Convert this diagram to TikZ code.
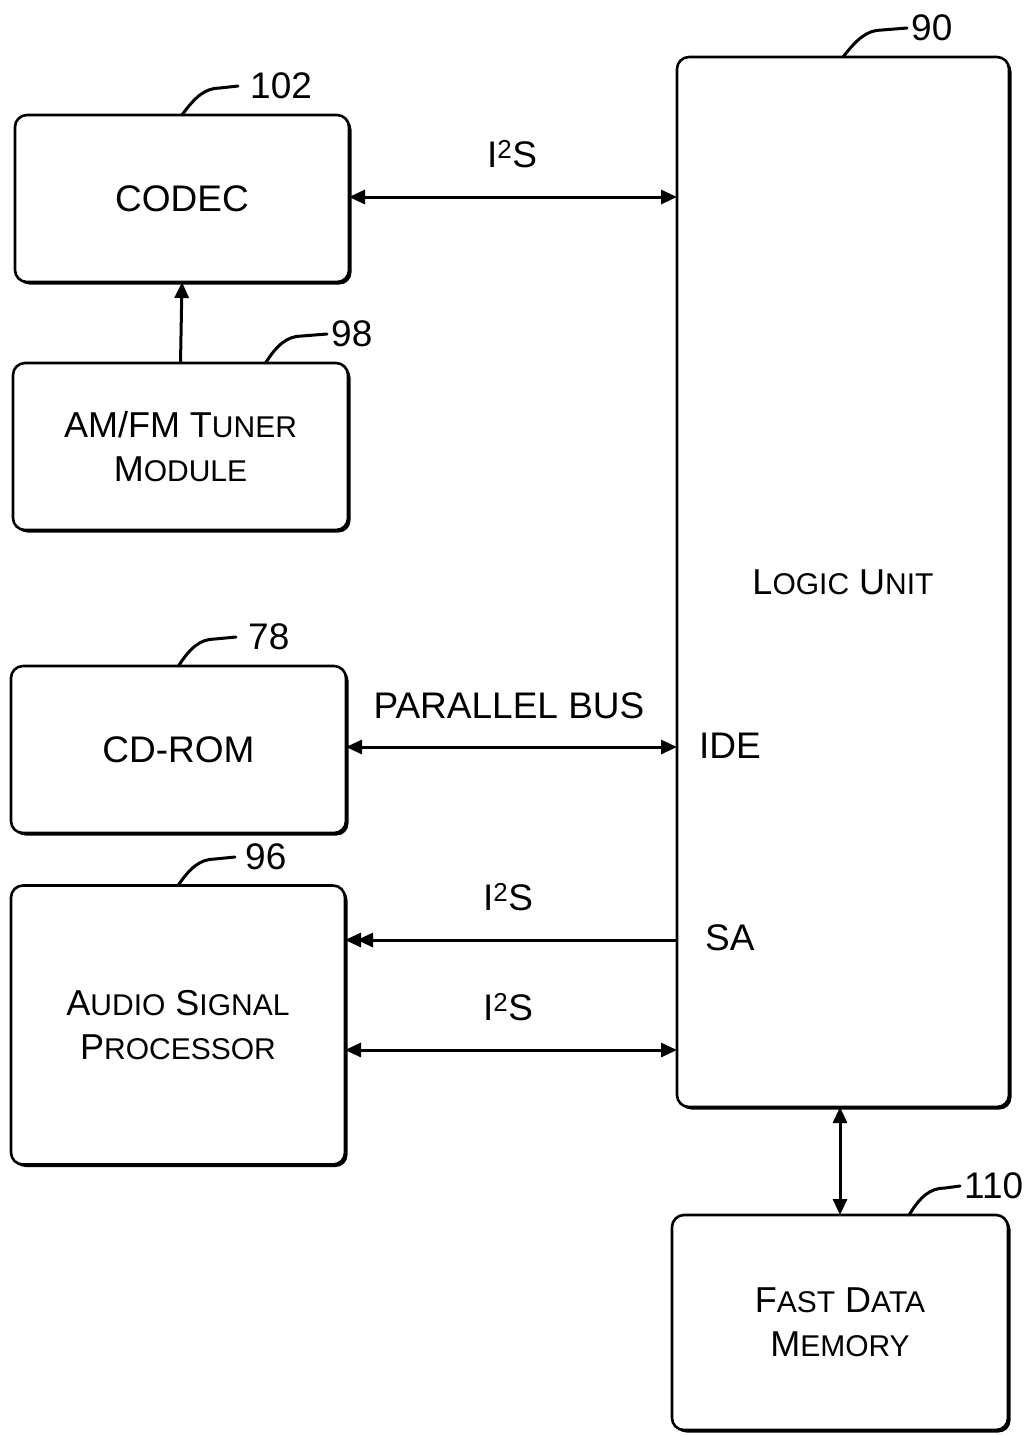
\documentclass[tikz,border=0pt]{standalone}
\usepackage{fontspec}
\setmainfont{Liberation Sans}
\usetikzlibrary{arrows.meta,shadows}
\newcommand\bigtxt{\fontsize{37}{44}\selectfont}
\newcommand\sctxt{\fontsize{36}{44}\selectfont}
\newcommand\smc[1]{{\fontsize{30}{44}\selectfont #1}}
\tikzset{
  box/.style={draw, line width=2.6pt, rounded corners=12pt, fill=white,
    inner sep=0pt, outer sep=0pt, align=center, font=\bigtxt,
    drop shadow={shadow xshift=2.5pt, shadow yshift=-2.5pt, fill=black, opacity=1}},
  lbl/.style={font=\bigtxt, inner sep=0pt},
  conn/.style={line width=3pt},
  tri/.tip={Triangle[length=16pt,width=14pt]},
  leader/.style={line width=3pt, line cap=round}
}
\begin{document}
\begin{tikzpicture}[x=1pt,y=-1pt]
\useasboundingbox (0,0) rectangle (1027,1436);
% boxes
\node[box, minimum width=334pt, minimum height=167pt] (codec) at (182,198.5) {CODEC};
\node[box, minimum width=335pt, minimum height=167pt, font=\sctxt] (tuner) at (180.5,446.5) {AM/FM T\smc{UNER}\\M\smc{ODULE}};
\node[box, minimum width=332pt, minimum height=1050pt, font=\sctxt] (logic) at (843,582) {L\smc{OGIC} U\smc{NIT}};
\node[box, minimum width=335pt, minimum height=167pt] (cdrom) at (178.5,749.5) {CD-ROM};
\node[box, minimum width=334pt, minimum height=279pt, font=\sctxt] (asp) at (178,1025) {A\smc{UDIO} S\smc{IGNAL}\\P\smc{ROCESSOR}};
\node[box, minimum width=336pt, minimum height=215pt, font=\sctxt] (fdm) at (840,1322.5) {F\smc{AST} D\smc{ATA}\\M\smc{EMORY}};
% reference numerals
\node[lbl, anchor=west] (n102) at (250,86) {102};
\node[lbl, anchor=west] (n98) at (331,334) {98};
\node[lbl, anchor=west] (n90) at (911,28) {90};
\node[lbl, anchor=west] (n78) at (248,637) {78};
\node[lbl, anchor=west] (n96) at (245,857) {96};
\node[lbl, anchor=west] (n110) at (964,1186) {110};
% leaders
\draw[leader] (codec.north) .. controls (195,97) and (205,88) .. (220,88) -- ([xshift=-12pt]n102.west);
\draw[leader] ([xshift=85pt]tuner.north) .. controls (277,345) and (287,336) .. (302,336) -- ([xshift=-4pt]n98.west);
\draw[leader] (logic.north) .. controls (857,39) and (867,30) .. (882,30) -- ([xshift=-4pt]n90.west);
\draw[leader] (cdrom.north) .. controls (190,648) and (200,639) .. (215,639) -- ([xshift=-12pt]n78.west);
\draw[leader] (asp.north) .. controls (190,868) and (200,859) .. (215,859) -- ([xshift=-10pt]n96.west);
\draw[leader] ([xshift=69pt]fdm.north) .. controls (920,1197) and (930,1188) .. (945,1188) -- ([xshift=-4pt]n110.west);
% connection labels
\node[lbl] (l1) at (512,154) {I\textsuperscript{2}S};
\node[lbl] (l2) at (509,706) {PARALLEL BUS};
\node[lbl] (l3) at (508,897) {I\textsuperscript{2}S};
\node[lbl] (l4) at (508,1007) {I\textsuperscript{2}S};
\node[lbl, anchor=west] (ide) at (699,746) {IDE};
\node[lbl, anchor=west] (sa) at (705,938) {SA};
% connectors
\draw[conn, {tri}-{tri}] (codec.east |- 0,197) -- (logic.west |- 0,197);
\draw[conn, -{tri}] (tuner.north) -- (codec.south);
\draw[conn, {tri}-{tri}] (cdrom.east |- 0,747) -- (logic.west |- 0,747);
\draw[conn, -{tri[sep=-4pt]tri}] (logic.west |- 0,940) -- (asp.east |- 0,940);
\draw[conn, {tri}-{tri}] (asp.east |- 0,1050) -- (logic.west |- 0,1050);
\draw[conn, {tri}-{tri}] (logic.south -| 840,0) -- (fdm.north);
\end{tikzpicture}
\end{document}
